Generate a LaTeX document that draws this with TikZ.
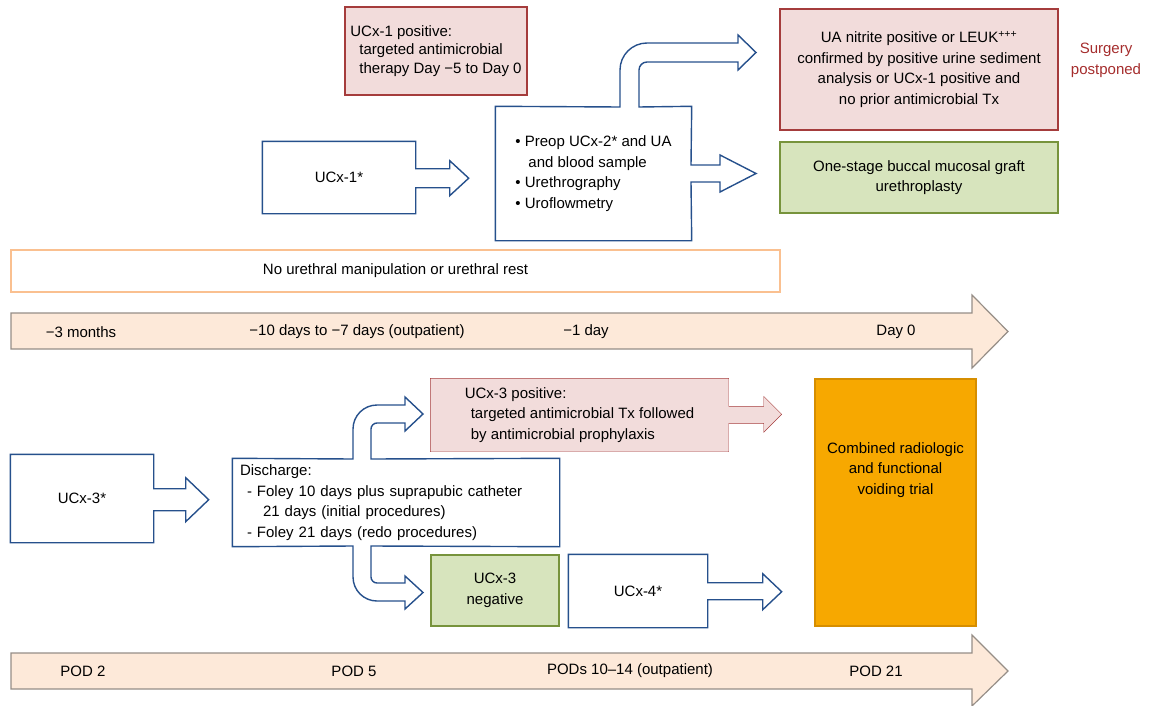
\documentclass[tikz,border=0pt]{standalone}
\usepackage{fontspec}
\setmainfont{Liberation Sans}
\usetikzlibrary{positioning,backgrounds}

\definecolor{boxblue}{RGB}{38,80,140}
\definecolor{redline}{RGB}{165,60,60}
\definecolor{pinkfill}{RGB}{242,220,219}
\definecolor{greenline}{RGB}{119,147,60}
\definecolor{greenfill}{RGB}{215,228,189}
\definecolor{orangefill}{RGB}{247,168,0}
\definecolor{orangeline}{RGB}{214,142,0}
\definecolor{peach}{RGB}{253,233,217}
\definecolor{timegray}{RGB}{150,142,135}
\definecolor{restline}{RGB}{250,192,144}
\definecolor{postponed}{RGB}{165,45,45}

\begin{document}
\begin{tikzpicture}[x=1pt,y=-1pt,line width=1.4pt,
  every node/.style={font=\fontsize{15}{20.7}\selectfont},
  blue box/.style={fill=white,inner sep=0pt,align=center},
  red box/.style={draw=redline,fill=pinkfill,inner sep=0pt,align=center},
  green box/.style={draw=greenline,fill=greenfill,inner sep=0pt,align=center},
  blue arrow/.style={draw=boxblue,line join=miter},
  red arrow/.style={draw=redline,fill=pinkfill,line join=miter},
  time arrow/.style={draw=timegray,fill=peach,line width=1.2pt},
  time label/.style={font=\fontsize{15}{17}\selectfont}]

\useasboundingbox (0,0) rectangle (1150,706);

% before surgery
\node[red box,minimum width=182pt,minimum height=88pt,align=left,font=\fontsize{15}{18.8}\selectfont] (pos1) at (436,51)
  {UCx-1 positive:\\\hspace{9pt}targeted antimicrobial\\\hspace{9pt}therapy Day −5 to Day 0};

\node[blue box,minimum width=152pt,minimum height=71pt] (ucx1) at (339,177.5) {UCx-1*};
\draw[blue arrow] (ucx1.north east) -- (ucx1.north west) -- (ucx1.south west) -- (ucx1.south east)
  -- ++(0,-26) -- ++(34,0) -- ++(0,8) -- ++(19,-17.5) -- ++(-19,-17.5) -- ++(0,8) -- ++(-34,0) -- cycle;

\node[blue box,minimum width=195pt,minimum height=133pt,align=left] (preop) at (593.5,173.5)
  {• Preop UCx-2* and UA\\\hspace{13pt}and blood sample\\• Urethrography\\• Uroflowmetry};
\draw[blue arrow] (691,165) -- (preop.north east) -- (639,107) -- (639,70)
  .. controls (639,65.6) and (642.6,62) .. (647,62) -- (738,62) -- (738,70) -- (756,52.5)
  -- (738,35) -- (738,43) -- (647,43) .. controls (632.1,43) and (620,55.1) .. (620,70)
  -- (620,107) -- (preop.north west) -- (preop.south west) -- (preop.south east)
  -- (691,182) -- (720,182) -- (720,192) -- (756,173.5) -- (720,155) -- (720,165) -- cycle;

\node[red box,minimum width=278pt,minimum height=121pt] (ua) at (919,69.5)
  {UA nitrite positive or LEUK\textsuperscript{+++}\\confirmed by positive urine sediment\\analysis or UCx-1 positive and\\no prior antimicrobial Tx};
\node[text=postponed,align=center] (post) at (1106,60.5) {Surgery\\postponed};
\node[green box,minimum width=278pt,minimum height=71pt] (graft) at (919,177.5)
  {One-stage buccal mucosal graft\\urethroplasty};

\node[draw=restline,line width=1.2pt,inner sep=0pt,minimum width=769pt,minimum height=42pt] (rest) at (395.5,271)
  {No urethral manipulation or urethral rest};

\draw[time arrow] (11,313) -- (972,313) -- (972,295) -- (1008,331.5) -- (972,368) -- (972,349) -- (11,349) -- cycle;
\node[time label] (tm3) at (81,332) {−3 months};
\node[time label] (td10) at (357,332) {−10 days to −7 days (outpatient)};
\node[time label] (td1) at (586,332) {−1 day};
\node[time label] (tday0) at (896,332) {Day 0};

% after surgery
\node[blue box,minimum width=142pt,minimum height=87pt] (ucx3) at (82,498.5) {UCx-3*};
\draw[blue arrow] (ucx3.north east) -- (ucx3.north west) -- (ucx3.south west) -- (ucx3.south east)
  -- ++(0,-32) -- ++(32,0) -- ++(0,11) -- ++(23,-22) -- ++(-23,-22) -- ++(0,11) -- ++(-32,0) -- cycle;

\node[blue box,minimum width=326pt,minimum height=87pt,text width=312pt,align=left] (disch) at (396,502.5)
  {Discharge:\\\hspace{7pt}- Foley 10 days plus suprapubic catheter\\\hspace{23pt}21 days (initial procedures)\\\hspace{7pt}- Foley 21 days (redo procedures)};
\draw[blue arrow] (disch.north west) -- (353,459) -- (353,429)
  .. controls (353,415.75) and (363.75,405) .. (377,405) -- (405,405) -- (405,397) -- (423,414)
  -- (405,431) -- (405,423) -- (377,423) .. controls (373.7,423) and (371,425.7) .. (371,429)
  -- (371,459) -- (disch.north east) -- (disch.south east) -- (371,546) -- (371,577)
  .. controls (371,580.3) and (373.7,583) .. (377,583) -- (405,583) -- (405,576) -- (423,592.5)
  -- (405,609) -- (405,601) -- (377,601) .. controls (363.75,601) and (353,590.25) .. (353,577)
  -- (353,546) -- (disch.south west) -- cycle;

\node[inner sep=0pt,minimum width=297pt,minimum height=72pt,align=left] (pos3) at (579.5,415)
  {UCx-3 positive:\\\hspace{6pt}targeted antimicrobial Tx followed\\\hspace{6pt}by antimicrobial prophylaxis};
\begin{scope}[on background layer]
\draw[red arrow] (pos3.north west) -- (pos3.north east) -- ++(0,28) -- ++(35,0) -- ++(0,-10)
  -- ++(18,18) -- ++(-18,18) -- ++(0,-9) -- ++(-35,0) -- (pos3.south east) -- (pos3.south west) -- cycle;
\end{scope}

\node[green box,minimum width=128pt,minimum height=71pt] (neg3) at (495,590.5) {UCx-3\\negative};

\node[blue box,minimum width=138pt,minimum height=72pt] (ucx4) at (638,591) {UCx-4*};
\draw[blue arrow] (ucx4.north east) -- (ucx4.north west) -- (ucx4.south west) -- (ucx4.south east)
  -- ++(0,-28) -- ++(55,0) -- ++(0,10) -- ++(19,-18) -- ++(-19,-18) -- ++(0,9) -- ++(-55,0) -- cycle;

\node[draw=orangeline,fill=orangefill,minimum width=161pt,minimum height=247pt] (trial) at (895.5,502.5) {};
\node[align=center] (trialtext) at (895.5,470) {Combined radiologic\\and functional\\voiding trial};

\draw[time arrow] (11,653) -- (972,653) -- (972,635) -- (1008,671) -- (972,706) -- (972,689) -- (11,689) -- cycle;
\node[time label] (pod2) at (83,671) {POD 2};
\node[time label] (pod5) at (354,671) {POD 5};
\node[time label] (pod10) at (630,671) {PODs 10–14 (outpatient)};
\node[time label] (pod21) at (876,671) {POD 21};
\end{tikzpicture}
\end{document}
